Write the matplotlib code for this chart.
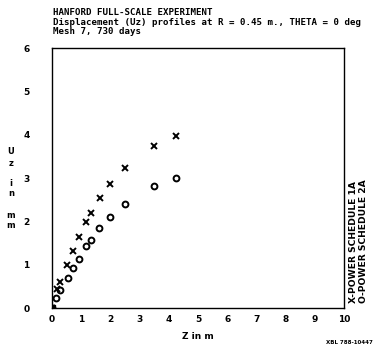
import matplotlib
matplotlib.use("Agg")
import matplotlib.pyplot as plt

# Displacement profiles (Z in m, Uz in mm)
z_x = [0.0, 0.18, 0.27, 0.53, 0.72, 0.93, 1.18, 1.34, 1.64, 1.99, 2.49, 3.48, 4.23]
uz_x = [0.0, 0.44, 0.60, 1.00, 1.31, 1.65, 1.99, 2.19, 2.53, 2.86, 3.23, 3.75, 3.98]

z_o = [0.0, 0.13, 0.29, 0.54, 0.73, 0.92, 1.18, 1.33, 1.62, 1.99, 2.49, 3.48, 4.23]
uz_o = [0.0, 0.22, 0.41, 0.69, 0.92, 1.14, 1.42, 1.57, 1.85, 2.11, 2.41, 2.81, 2.99]

x_ticks = [0, 1, 2, 3, 4, 5, 6, 7, 8, 9, 10]
y_ticks = [0, 1, 2, 3, 4, 5, 6]

title_lines = ["HANFORD FULL-SCALE EXPERIMENT",
               "Displacement (Uz) profiles at R = 0.45 m., THETA = 0 deg",
               "Mesh 7, 730 days"]
legend_lines = ["X-POWER SCHEDULE 1A", "O-POWER SCHEDULE 2A"]
ylabel_chars = ["U", "z", "i", "n", "m", "m"]
ylabel_rows = [152, 163, 183, 193, 215, 225]  # pixel rows of the stacked label

plt.rcParams['font.family'] = 'DejaVu Sans'
plt.rcParams['font.weight'] = 'bold'

W, H = 379, 346
fig = plt.figure(figsize=(W / 100, H / 100), dpi=100)
ax = fig.add_axes([52 / W, 1 - 308 / H, 292 / W, 260 / H])

ax.plot(z_x, uz_x, linestyle='none', marker='x', markersize=4.5,
        markeredgewidth=1.4, color='black')
ax.plot(z_o, uz_o, linestyle='none', marker='o', markersize=4.2,
        markeredgewidth=1.4, fillstyle='none', color='black')
ax.plot([0], [0], linestyle='none', marker='s', markersize=4, color='black')

ax.set_xlim(0, 10)
ax.set_ylim(0, 6)
ax.set_xticks(x_ticks)
ax.set_yticks(y_ticks)
ax.tick_params(axis='x', length=0, labelsize=6.5, pad=5)
ax.tick_params(axis='y', length=0, labelsize=6.5, pad=16)
for s in ax.spines.values():
    s.set_linewidth(1.0)

fig.text(53 / W, 1 - 8 / H, "\n".join(title_lines), family='DejaVu Sans Mono',
         fontsize=6.6, fontweight='bold', va='top', ha='left', linespacing=1.08)

ax.set_xlabel("Z in m", fontsize=6.5, fontweight='bold', labelpad=6)
for ch, row in zip(ylabel_chars, ylabel_rows):
    fig.text(11 / W, 1 - row / H, ch, fontsize=6, fontweight='bold',
             ha='center', va='center')

for line, col in zip(legend_lines, [354, 364]):
    fig.text(col / W, 1 - 303 / H, line, fontsize=6.6, fontweight='bold',
             rotation=90, ha='center', va='bottom')

fig.text(373 / W, 1 - 343 / H, "XBL 788-10447", fontsize=4, fontweight='bold',
         ha='right', va='center')

fig.savefig("out.png", dpi=100)
